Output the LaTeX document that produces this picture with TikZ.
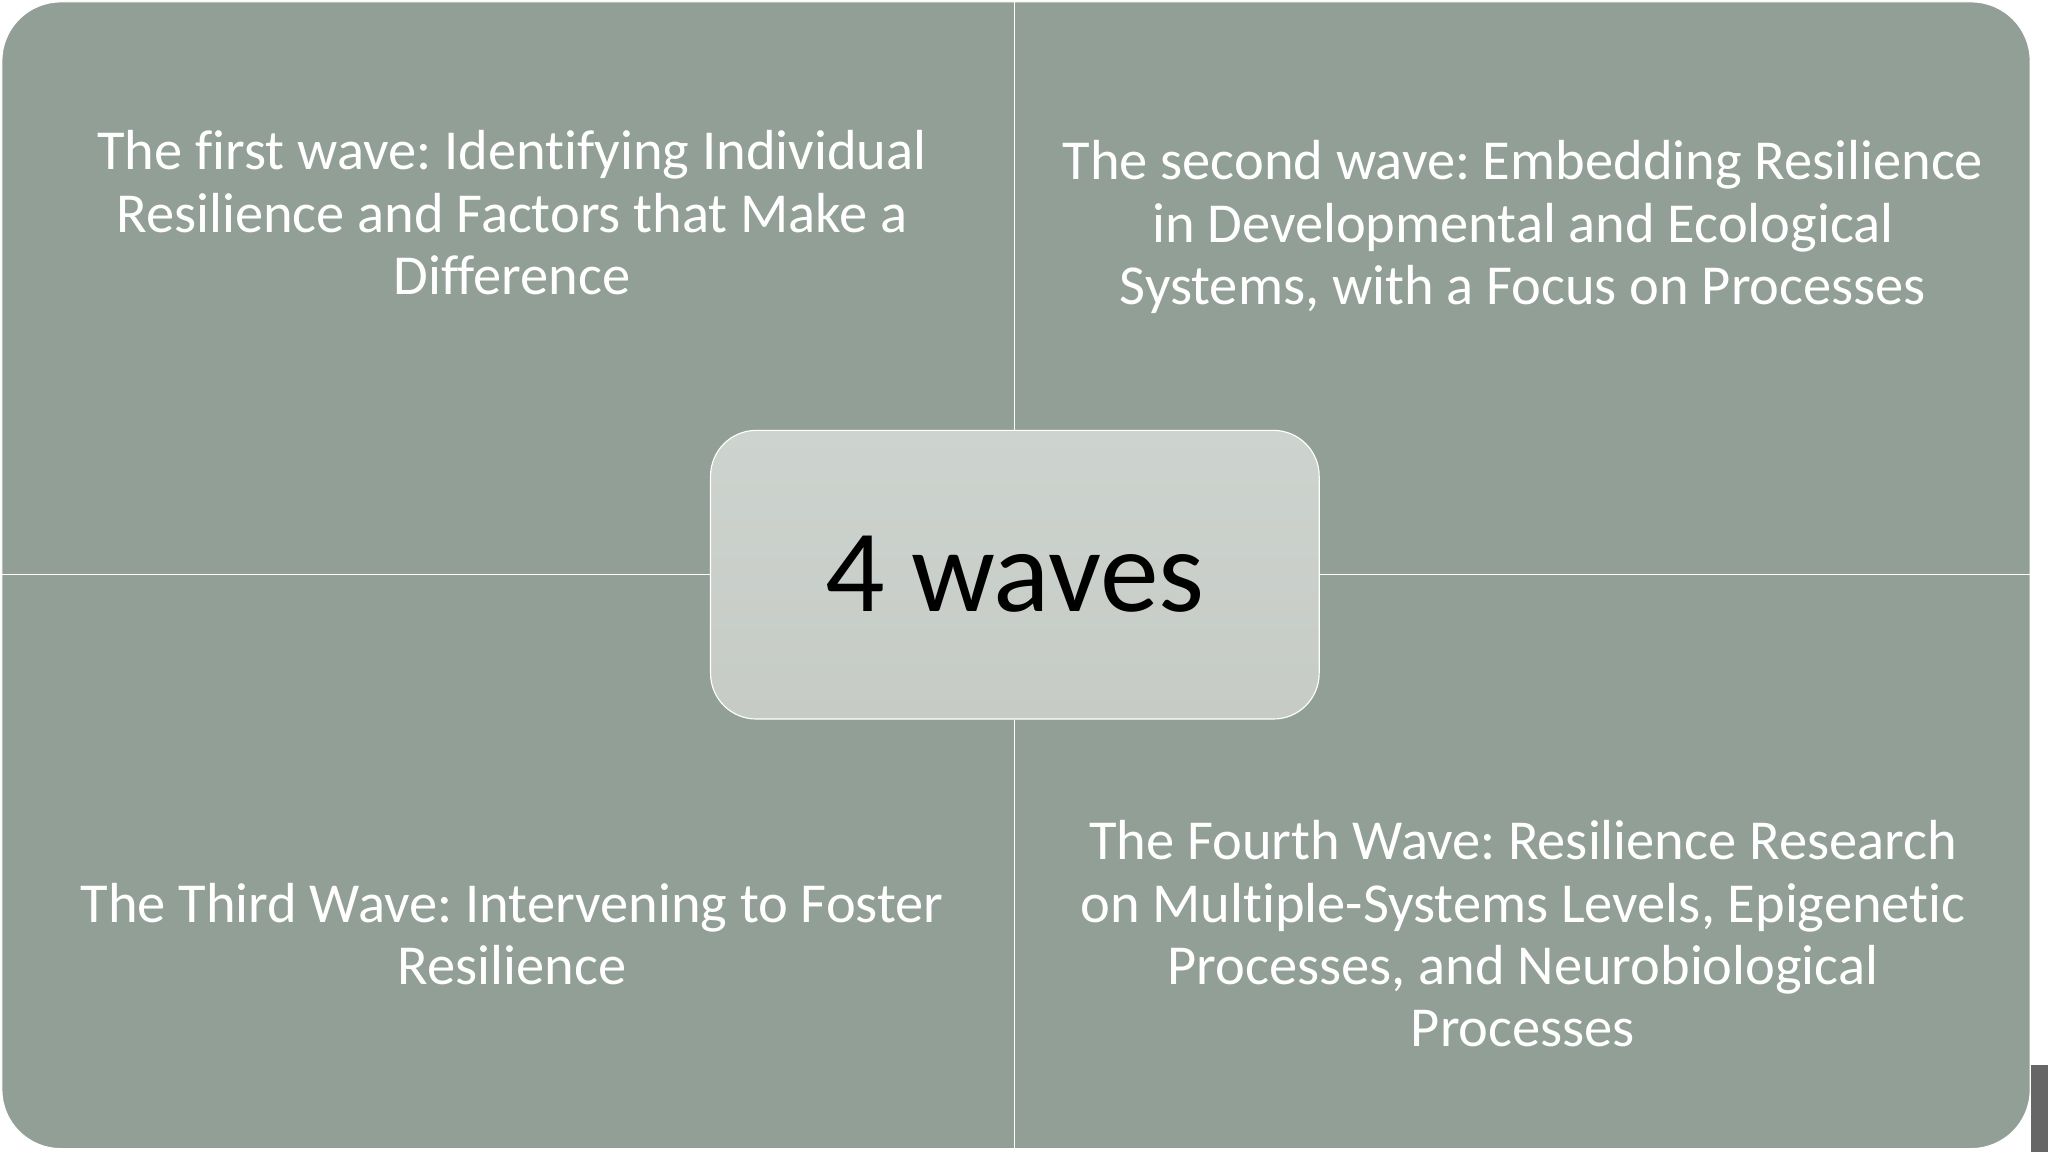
\documentclass[tikz,border=0pt]{standalone}
\usepackage{fontspec}
\setmainfont[Ligatures=NoCommon]{Carlito}
\begin{document}
\frenchspacing
\begin{tikzpicture}[x=0.1cm,y=-0.1cm,
  quad/.style={align=center,text=white,font=\fontsize{123}{136}\selectfont},
  sep/.style={draw=white,line width=2.5pt}]
\useasboundingbox (0,0) rectangle (1568,882);
\fill[white] (0,0) rectangle (1568,882);
\fill[black!60] (1555,815) rectangle (1568,882);
\node[draw=white,line width=2.5pt,fill={rgb,255:red,145;green,159;blue,151},rounded corners=4.5cm,minimum width=155.3cm,minimum height=87.8cm,anchor=north west] (bg) at (1,1) {};
\coordinate (t) at (777,1);
\coordinate (b) at (777,881);
\coordinate (l) at (1,440);
\coordinate (r) at (1555,440);
\node[draw=white,line width=2.5pt,top color={rgb,255:red,205;green,211;blue,206},bottom color={rgb,255:red,198;green,203;blue,198},rounded corners=3.5cm,minimum width=46.6cm,minimum height=22.1cm] (c) at (777,440)
  {\fontsize{256}{300}\selectfont 4 waves};
\draw[sep] (t) -- (c.north);
\draw[sep] (c.south) -- (b);
\draw[sep] (l) -- (c.west);
\draw[sep] (c.east) -- (r);
\node[quad] (q1) at (392,163) {The first wave: Identifying Individual\\Resilience and Factors that Make a\\Difference};
\node[quad] (q2) at (1166,174) {The second wave: Embedding Resilience\\in Developmental and Ecological\\Systems, with a Focus on Processes};
\node[quad] (q3) at (392,715) {The Third Wave: Intervening to Foster\\Resilience};
\node[quad] (q4) at (1166,715) {The Fourth Wave: Resilience Research\\on Multiple-Systems Levels, Epigenetic\\Processes, and Neurobiological\\Processes};
\end{tikzpicture}
\end{document}
